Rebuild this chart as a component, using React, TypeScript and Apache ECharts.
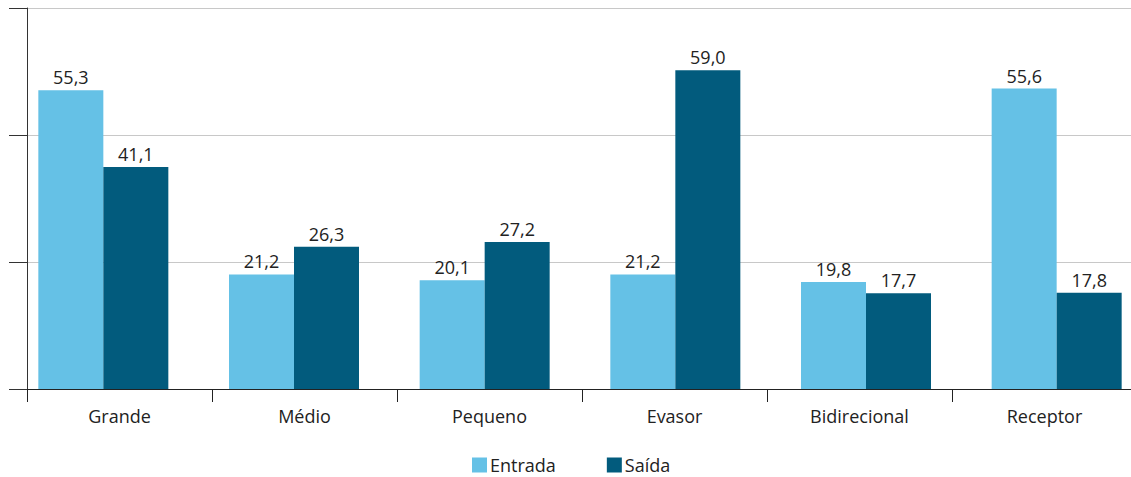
import React, { useEffect, useRef } from "react";
import * as echarts from "echarts";

const categories = ["Grande", "Médio", "Pequeno", "Evasor", "Bidirecional", "Receptor"];
const entrada = [55.3, 21.2, 20.1, 21.2, 19.8, 55.6];
const saida = [41.1, 26.3, 27.2, 59.0, 17.7, 17.8];
const seriesNames = ["Entrada", "Saída"];

const FONT = "Open Sans";
const FS = 18;
const fmt = (v: number) => v.toFixed(1).replace(".", ",");

export default function App() {
  const ref = useRef<HTMLDivElement>(null);
  useEffect(() => {
    document.body.style.margin = "0";
    document.body.style.overflow = "hidden";
    document.documentElement.style.overflow = "hidden";
    const chart = echarts.init(ref.current!, null, { renderer: "svg" });
    const yCommon = { type: "value", min: 0, max: 70.5, interval: 23.5 };
    const label = {
      show: true,
      position: "top",
      distance: 4,
      fontSize: FS,
      color: "#222",
      fontFamily: FONT,
      formatter: (p: any) => fmt(p.value),
    };
    chart.setOption({
      animation: false,
      textStyle: { fontFamily: FONT },
      legend: {
        data: seriesNames,
        left: 467,
        top: 451,
        padding: [5, 5, 0, 5],
        icon: "rect",
        itemWidth: 15,
        itemHeight: 15,
        itemGap: 51,
        textStyle: {
          fontSize: FS,
          lineHeight: 18,
          color: "#222",
          fontFamily: FONT,
          padding: [0, 0, 0, -2],
        },
      },
      grid: [
        { left: 27, top: 8, width: 1110, height: 381 },
        { left: 8, top: 8, width: 1144, height: 381 },
      ],
      xAxis: [
        {
          type: "category",
          gridIndex: 0,
          data: categories,
          axisLine: { show: true, lineStyle: { color: "#222", width: 1 } },
          axisTick: { show: true, length: 13, interval: 0, lineStyle: { color: "#222" } },
          axisLabel: { fontSize: FS, color: "#222", margin: 18, fontFamily: FONT, interval: 0 },
        },
        {
          type: "category",
          gridIndex: 1,
          data: categories,
          show: false,
        },
      ],
      yAxis: [
        {
          ...yCommon,
          gridIndex: 0,
          axisLine: { show: true, lineStyle: { color: "#333", width: 1 } },
          axisTick: { show: true, length: 18, lineStyle: { color: "#333" } },
          axisLabel: { show: false },
          splitLine: { show: true, lineStyle: { color: "#c8c8c8", width: 1 } },
        },
        {
          ...yCommon,
          gridIndex: 1,
          show: false,
          splitLine: { show: false },
        },
      ],
      series: [
        {
          name: seriesNames[0],
          type: "bar",
          xAxisIndex: 1,
          yAxisIndex: 1,
          data: entrada,
          barWidth: 65,
          barGap: "0%",
          itemStyle: { color: "#65c1e6" },
          label,
        },
        {
          name: seriesNames[1],
          type: "bar",
          xAxisIndex: 1,
          yAxisIndex: 1,
          data: saida,
          barWidth: 65,
          barGap: "0%",
          itemStyle: { color: "#025b7d" },
          label,
        },
      ],
    });
    return () => chart.dispose();
  }, []);
  return <div ref={ref} style={{ width: 1160, height: 477 }} />;
}
